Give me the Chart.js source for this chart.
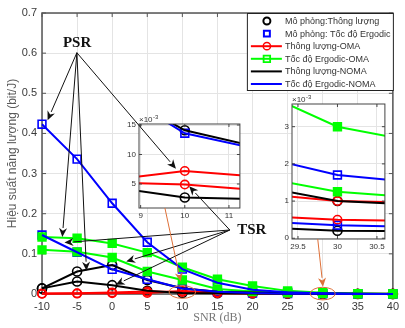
<!DOCTYPE html>
<html><head><meta charset="utf-8">
<script src="https://cdn.jsdelivr.net/npm/chart.js@4.4.1/dist/chart.umd.min.js"></script>
<style>
html,body{margin:0;padding:0;background:#fff;}
#wrap{position:relative;width:405px;height:328px;overflow:hidden;background:#fff;}
canvas{position:absolute;}
</style></head><body>
<div id="wrap">
<canvas id="main" width="405" height="328" style="left:0px;top:0px"></canvas>
<canvas id="in1" width="135" height="114" style="left:112px;top:110px"></canvas>
<canvas id="in2" width="120" height="164" style="left:272px;top:92px"></canvas>
<canvas id="ov" width="405" height="328" style="left:0px;top:0px"></canvas>
</div>
<script>
// ---------------- data ----------------
const snr = [-10,-5,0,5,10,15,20,25,30,35,40];
const ergNomaPSR = [0.423,0.336,0.226,0.129,0.062,0.028,0.0105,0.0042,0.0017,0.0007,0.0003];
const ergNomaTSR = [0.147,0.104,0.0615,0.0366,0.0136,0.0055,0.0022,0.00085,0.00035,0.00015,0.00008];
const ergOmaPSR  = [0.142,0.139,0.126,0.103,0.0665,0.0366,0.02,0.0078,0.003,0.001,0.0004];
const ergOmaTSR  = [0.11,0.105,0.091,0.056,0.035,0.0125,0.006,0.00325,0.00125,0.0005,0.0002];
const thrNomaPSR = [0.014,0.056,0.072,0.035,0.0141,0.0055,0.004,0.003,0.001,0.0005,0.00025];
const thrNomaTSR = [0.014,0.031,0.022,0.008,0.0027,0.0019,0.0012,0.0007,0.0002,0.00015,0.0001];
const thrOmaPSR  = [0.0005,0.001,0.002,0.0028,0.0072,0.0044,0.003,0.002,0.001,0.0008,0.0006];
const thrOmaTSR  = [0.001,0.002,0.004,0.006,0.0049,0.002,0.0014,0.001,0.0005,0.0003,0.0002];

const xTicks = [-10,-5,0,5,10,15,20,25,30,35,40];
const xTickLabels = ['-10','-5','0','5','10','15','20','25','30','35','40'];
const yTicks = [0,0.1,0.2,0.3,0.4,0.5,0.6,0.7];
const yTickLabels = ['0','0.1','0.2','0.3','0.4','0.5','0.6','0.7'];
const in1XTicks = [9,10,11], in1XLabels = ['9','10','11'];
const in1YTicks = [0.005,0.01,0.015], in1YLabels = ['5','10','15'];
const in2XTicks = [29.5,30,30.5], in2XLabels = ['29.5','30','30.5'];
const in2YTicks = [0,0.001,0.002,0.003], in2YLabels = ['0','1','2','3'];
const legendLabels = ['Mô phỏng:Thông lượng','Mô phỏng: Tốc độ Ergodic','Thông lượng-OMA','Tốc độ Ergodic-OMA','Thông lượng-NOMA','Tốc độ Ergodic-NOMA'];
const xTitle = 'SNR (dB)';
const yTitle = 'Hiệu suất năng lượng (bit/J)';
const scaleNote = ['×10','-3'];

// ---------------- styles ----------------
const FONT = "'Liberation Sans', Arial, Helvetica, sans-serif";
const SERIF = "'Liberation Serif', 'Times New Roman', serif";
const BLACK='#000000', BLUE='#0000FF', GREEN='#00FF00', RED='#FF0000', ORANGE='#DE7038';
const NONE='rgba(0,0,0,0)';
// index 0 is drawn on top
const series = [
  {ys: ergNomaPSR, color: BLUE, line: true, style:'rect', fill: NONE, r:0},
  {ys: ergNomaTSR, color: BLUE, line: true, style:'rect', fill: NONE, r:0},
  {ys: thrNomaPSR, color: BLACK, line: true, style:'circle', fill: NONE, r:0},
  {ys: thrNomaTSR, color: BLACK, line: true, style:'circle', fill: NONE, r:0},
  {ys: ergOmaPSR, color: GREEN, line: true, style:'rect', fill: GREEN, r:5.5},
  {ys: ergOmaTSR, color: GREEN, line: true, style:'rect', fill: GREEN, r:5.5},
  {ys: thrOmaPSR, color: RED, line: true, style:'circle', fill: NONE, r:4.2},
  {ys: thrOmaTSR, color: RED, line: true, style:'circle', fill: NONE, r:4.2},
  {ys: ergNomaPSR, color: BLUE, line: false, style:'rect', fill: NONE, r:5.5},
  {ys: ergNomaTSR, color: BLUE, line: false, style:'rect', fill: NONE, r:5.5},
  {ys: thrNomaPSR, color: BLACK, line: false, style:'circle', fill: NONE, r:4.5},
  {ys: thrNomaTSR, color: BLACK, line: false, style:'circle', fill: NONE, r:4.5},
];
const legendItems = [
  {line:false, marker:'circle', color:BLACK, fill:NONE, r:3.5, lw:2},
  {line:false, marker:'rect', color:BLUE, fill:NONE, r:4.2, lw:2},
  {line:true, marker:'circle', color:RED, fill:NONE, r:3.6, lw:1.5},
  {line:true, marker:'rect', color:GREEN, fill:NONE, r:4.6, lw:1.8},
  {line:true, marker:null, color:BLACK},
  {line:true, marker:null, color:BLUE},
];

function makeDatasets(clip) {
  return series.map(s => ({
    data: snr.map((x,i) => ({x, y: s.ys[i]})),
    showLine: s.line,
    borderColor: s.color, backgroundColor: s.color, borderWidth: 2,
    pointStyle: s.style, pointRadius: s.r, pointBorderWidth: 1.6,
    pointBackgroundColor: s.fill, pointBorderColor: s.color,
    tension: 0, clip: clip
  }));
}

function drawBox(ctx, a, color, lw, tickLen, chart) {
  ctx.save();
  ctx.strokeStyle = color; ctx.lineWidth = lw;
  ctx.strokeRect(a.left, a.top, a.right - a.left, a.bottom - a.top);
  if (tickLen > 0) {
    ctx.lineWidth = 1;
    ctx.beginPath();
    chart.scales.x.ticks.forEach(t => {
      const p = chart.scales.x.getPixelForValue(t.value);
      ctx.moveTo(p, a.bottom); ctx.lineTo(p, a.bottom - tickLen);
      ctx.moveTo(p, a.top); ctx.lineTo(p, a.top + tickLen);
    });
    chart.scales.y.ticks.forEach(t => {
      const p = chart.scales.y.getPixelForValue(t.value);
      ctx.moveTo(a.left, p); ctx.lineTo(a.left + tickLen, p);
      ctx.moveTo(a.right, p); ctx.lineTo(a.right - tickLen, p);
    });
    ctx.stroke();
  }
  ctx.restore();
}

function drawMarker(ctx, style, x, y, r, color, fill, lw) {
  ctx.save(); ctx.lineWidth = lw; ctx.strokeStyle = color; ctx.fillStyle = fill;
  ctx.beginPath();
  if (style === 'circle') ctx.arc(x, y, r, 0, Math.PI * 2);
  else { const s = r * Math.SQRT1_2; ctx.rect(x - s, y - s, 2 * s, 2 * s); }
  ctx.fill(); ctx.stroke(); ctx.restore();
}

// ---------------- main chart ----------------
const mainPlugin = {
  id: 'mainDecor',
  beforeDatasetsDraw(chart) {
    drawBox(chart.ctx, chart.chartArea, '#555555', 1.5, 4, chart);
  },
  afterDraw(chart) {
    const ctx = chart.ctx, a = chart.chartArea;
    const lw = 147, lh = 78;
    const lx = a.right - lw + 1, ly = a.top;
    ctx.save();
    ctx.fillStyle = '#ffffff';
    ctx.fillRect(lx, ly, lw, lh);
    ctx.strokeStyle = '#222222'; ctx.lineWidth = 1;
    ctx.strokeRect(lx + 0.5, ly + 0.5, lw - 1, lh - 1);
    ctx.font = '9px ' + FONT;
    ctx.textBaseline = 'middle'; ctx.textAlign = 'left';
    legendItems.forEach((it, i) => {
      const cy = ly + 8 + i * 12.6;
      if (it.line) {
        ctx.strokeStyle = it.color; ctx.lineWidth = 2;
        ctx.beginPath(); ctx.moveTo(lx + 4, cy); ctx.lineTo(lx + 35, cy); ctx.stroke();
      }
      if (it.marker) drawMarker(ctx, it.marker, lx + 20, cy, it.r, it.color, it.fill, it.lw);
      ctx.fillStyle = '#333333';
      ctx.fillText(legendLabels[i], lx + 38, cy + 0.5);
    });
    ctx.restore();
  }
};

const mainChart = new Chart(document.getElementById('main'), {
  type: 'line',
  data: { datasets: makeDatasets(false) },
  options: {
    responsive: false, animation: false, events: [],
    layout: { padding: { top: 13, right: 5, left: 0, bottom: 0 } },
    plugins: { legend: { display: false }, tooltip: { enabled: false } },
    scales: {
      x: {
        type: 'linear', min: -10, max: 40,
        afterBuildTicks: s => { s.ticks = xTicks.map(v => ({ value: v })); },
        afterFit: s => { s.height = 34; },
        grid: { color: '#e4e4e4', drawTicks: false },
        border: { display: false },
        ticks: { font: { family: FONT, size: 11 }, color: '#3a3a3a', padding: 6, maxRotation: 0, autoSkip: false,
                 callback: (v, i) => xTickLabels[i] },
        title: { display: true, text: xTitle, font: { family: SERIF, size: 12 }, color: '#777777', padding: { top: 0, bottom: 3 } }
      },
      y: {
        type: 'linear', min: 0, max: 0.7,
        afterBuildTicks: s => { s.ticks = yTicks.map(v => ({ value: v })); },
        afterFit: s => { s.width = 42; },
        grid: { color: '#e4e4e4', drawTicks: false },
        border: { display: false },
        ticks: { font: { family: FONT, size: 11 }, color: '#3a3a3a', padding: 5, autoSkip: false,
                 callback: (v, i) => yTickLabels[i] },
        title: { display: true, text: yTitle, font: { family: FONT, size: 12 }, color: '#5a5a5a', padding: { top: 5, bottom: 0 } }
      }
    }
  },
  plugins: [mainPlugin]
});

// ---------------- insets ----------------
function makeInset(id, canvasRect, plotRect, xr, yr, xt, xl, yt, yl) {
  const plug = {
    id: 'insetDecor' + id,
    beforeDraw(chart) {
      const a = chart.chartArea, ctx = chart.ctx;
      ctx.save(); ctx.fillStyle = '#ffffff';
      ctx.fillRect(a.left, a.top, a.right - a.left, a.bottom - a.top); ctx.restore();
    },
    afterDraw(chart) {
      const a = chart.chartArea, ctx = chart.ctx;
      drawBox(ctx, a, '#444444', 1, 3, chart);
      ctx.save();
      ctx.fillStyle = '#333333'; ctx.textBaseline = 'alphabetic'; ctx.textAlign = 'left';
      ctx.font = '8px ' + FONT;
      ctx.fillText(scaleNote[0], a.left, a.top - 2);
      const w = ctx.measureText(scaleNote[0]).width;
      ctx.font = '6px ' + FONT;
      ctx.fillText(scaleNote[1], a.left + w + 0.5, a.top - 5);
      ctx.restore();
    }
  };
  return new Chart(document.getElementById(id), {
    type: 'line',
    data: { datasets: makeDatasets(0) },
    options: {
      responsive: false, animation: false, events: [],
      layout: { padding: { top: plotRect.top - canvasRect.top, right: canvasRect.right - plotRect.right, left: 0, bottom: 0 } },
      plugins: { legend: { display: false }, tooltip: { enabled: false } },
      scales: {
        x: {
          type: 'linear', min: xr[0], max: xr[1],
          afterBuildTicks: s => { s.ticks = xt.map(v => ({ value: v })); },
          afterFit: s => { s.height = canvasRect.bottom - plotRect.bottom; },
          grid: { color: '#e4e4e4', drawTicks: false }, border: { display: false },
          ticks: { font: { family: FONT, size: 8 }, color: '#333333', padding: 3, maxRotation: 0, autoSkip: false,
                   callback: (v, i) => xl[i] }
        },
        y: {
          type: 'linear', min: yr[0], max: yr[1],
          afterBuildTicks: s => { s.ticks = yt.map(v => ({ value: v })); },
          afterFit: s => { s.width = plotRect.left - canvasRect.left; },
          grid: { color: '#e4e4e4', drawTicks: false }, border: { display: false },
          ticks: { font: { family: FONT, size: 8 }, color: '#333333', padding: 3, autoSkip: false,
                   callback: (v, i) => yl[i] }
        }
      }
    },
    plugins: [plug]
  });
}

const in1Off = { left: 112, top: 110 };
const in2Off = { left: 272, top: 92 };
const inset1 = makeInset('in1', { left: 112, top: 110, right: 247, bottom: 224 }, { left: 139, top: 124, right: 243, bottom: 208 },
  [8.963, 11.248], [0.00093, 0.01517], in1XTicks, in1XLabels, in1YTicks, in1YLabels);
const inset2 = makeInset('in2', { left: 272, top: 92, right: 392, bottom: 256 }, { left: 292, top: 104, right: 385, bottom: 239 },
  [29.424, 30.601], [-0.00002, 0.00361], in2XTicks, in2XLabels, in2YTicks, in2YLabels);

// ---------------- overlay annotations ----------------
const charts = { main: { c: mainChart, o: { left: 0, top: 0 } }, in1: { c: inset1, o: in1Off }, in2: { c: inset2, o: in2Off } };
function P(ref, x, y) {
  const e = charts[ref];
  return [e.c.scales.x.getPixelForValue(x) + e.o.left, e.c.scales.y.getPixelForValue(y) + e.o.top];
}
const psrLabel = ['main', -5, 0.626, 'PSR'];
const psrFrom = ['main', -5.03, 0.601];
const psrTo = [['main', -9.2, 0.433], ['main', -7.1, 0.142], ['main', -3.66, 0.058], ['in1', 9.8, 0.0076]];
const tsrLabel = ['main', 19.9, 0.158, 'TSR'];
const tsrFrom = ['main', 16.76, 0.1594];
const tsrTo = [['main', -6.8, 0.128], ['main', 2.0, 0.081], ['main', 0.5, 0.023], ['in1', 10.1, 0.0046]];
const ellipses = [['main', 10, 0.005, 13.3, 6.3], ['main', 30, 0.001, 12.5, 6.3]];
const orangeArrows = [[['in1', 9.55, 0.00093], ['main', 9.76, 0.031]], [['in2', 29.75, -0.00002], ['main', 30.04, 0.018]]];

function arrow(ctx, p0, p1, color, hl, hw) {
  const dx = p1[0] - p0[0], dy = p1[1] - p0[1], L = Math.hypot(dx, dy);
  const ux = dx / L, uy = dy / L;
  const bx = p1[0] - ux * hl, by = p1[1] - uy * hl;
  ctx.strokeStyle = color; ctx.fillStyle = color; ctx.lineWidth = 1;
  ctx.beginPath(); ctx.moveTo(p0[0], p0[1]); ctx.lineTo(bx, by); ctx.stroke();
  ctx.beginPath();
  ctx.moveTo(p1[0], p1[1]);
  ctx.lineTo(bx - uy * hw, by + ux * hw);
  ctx.lineTo(p1[0] - ux * hl * 0.7, p1[1] - uy * hl * 0.7);
  ctx.lineTo(bx + uy * hw, by - ux * hw);
  ctx.closePath(); ctx.fill();
}

const ov = document.getElementById('ov').getContext('2d');
ov.save();
[[psrFrom, psrTo], [tsrFrom, tsrTo]].forEach(([f, ts]) => {
  const p0 = P(f[0], f[1], f[2]);
  ts.forEach(t => arrow(ov, p0, P(t[0], t[1], t[2]), '#111111', 9, 4));
});
ov.font = 'bold 15px ' + SERIF; ov.fillStyle = '#111111'; ov.textBaseline = 'middle';
ov.textAlign = 'center';
let lp = P(psrLabel[0], psrLabel[1], psrLabel[2]); ov.fillText(psrLabel[3], lp[0], lp[1]);
lp = P(tsrLabel[0], tsrLabel[1], tsrLabel[2]); ov.fillText(tsrLabel[3], lp[0], lp[1]);
ov.strokeStyle = ORANGE; ov.lineWidth = 1;
ellipses.forEach(e => { const c = P(e[0], e[1], e[2]); ov.beginPath(); ov.ellipse(c[0], c[1], e[3], e[4], 0, 0, Math.PI * 2); ov.stroke(); });
orangeArrows.forEach(a => arrow(ov, P(a[0][0], a[0][1], a[0][2]), P(a[1][0], a[1][1], a[1][2]), ORANGE, 9, 4));
ov.restore();
</script>
</body></html>
